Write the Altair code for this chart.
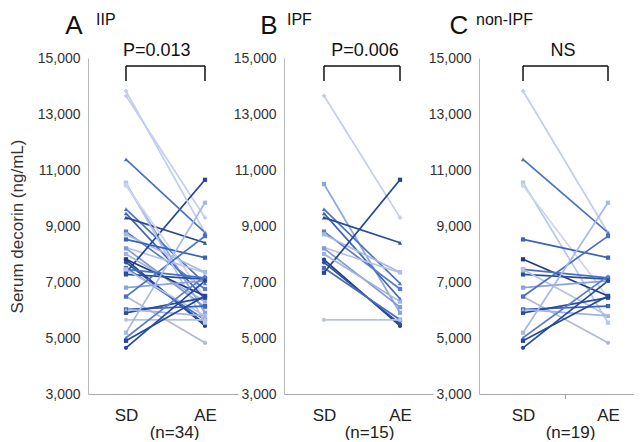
import altair as alt
import pandas as pd

# ---------------- data ----------------
y_ticks = [3000, 5000, 7000, 9000, 11000, 13000, 15000]
time_labels = ["SD", "AE"]

ipf_sd = [13650, 10500, 9600, 9450, 9300, 8800, 8700, 8230, 8200, 7800, 7700, 7500, 7330, 5650, 8000]
ipf_ae = [9300, 5900, 6950, 6400, 8400, 6750, 7350, 7330, 6100, 5430, 5500, 5650, 10650, 5650, 6300]
ipf_colors = ["#c3cdec", "#8ea5dc", "#4f74c4", "#3d63b8", "#2a4a9a", "#5a7dc9", "#a8b9e4",
              "#b5c3e8", "#7f98d6", "#1f3f8f", "#2c4fa3", "#4a6fc0", "#234594", "#b9c3df", "#9fb2e2"]
ipf_shapes = ["cross", "square", "triangle-up", "triangle-up", "triangle-up", "square", "square",
              "triangle-up", "square", "circle", "circle", "square", "square", "circle", "square"]

non_sd = [13820, 11380, 10550, 10450, 8520, 7810, 7450, 7270, 7450, 6800,
          6480, 6480, 6020, 5900, 6020, 5190, 5010, 4650, 4900]
non_ae = [8760, 8760, 5550, 6450, 7870, 6500, 7150, 7100, 5790, 7040,
          4830, 8640, 6140, 6440, 5790, 9830, 7210, 7040, 6500]
non_colors = ["#c3cdec", "#4a70c4", "#b8c6ea", "#cdd5ee", "#3a64bb", "#1f3a80", "#4a70c4", "#2a4fa0",
              "#b5c3e8", "#8aa3dc", "#b3bad0", "#4a70c4", "#3b62b8", "#284c9e", "#9fb2e2",
              "#a6b8e6", "#5b7ecb", "#2448a0", "#27479a"]
non_shapes = ["cross", "triangle-up", "square", "square", "square", "square", "square", "square",
              "square", "square", "circle", "square", "square", "square", "triangle-up",
              "square", "triangle-up", "circle", "square"]

panels = [
    dict(letter="A", name="IIP", n=34, p="P=0.013"),
    dict(letter="B", name="IPF", n=15, p="P=0.006"),
    dict(letter="C", name="non-IPF", n=19, p="NS"),
]

bracket_top = 14714
bracket_bottom = 14180

FONT = "Liberation Sans"
H = 336


def long_df(sd, ae, colors, shapes, prefix):
    rows = []
    for i, (s, a, c, sh) in enumerate(zip(sd, ae, colors, shapes)):
        rows.append(dict(id=f"{prefix}{i}", t=0, v=s, color=c, shape=sh))
        rows.append(dict(id=f"{prefix}{i}", t=1, v=a, color=c, shape=sh))
    return pd.DataFrame(rows)


df_ipf = long_df(ipf_sd, ipf_ae, ipf_colors, ipf_shapes, "ipf")
df_non = long_df(non_sd, non_ae, non_colors, non_shapes, "non")
df_all = pd.concat([df_ipf, df_non], ignore_index=True)


def panel(df, info, width, xdomain, title_x, p_x, letter_dx, name_dx, ytitle, mid_tick=False):
    x_enc = alt.X(
        "t:Q",
        scale=alt.Scale(domain=xdomain, nice=False, zero=False),
        axis=alt.Axis(
            values=[0, 1], labelExpr=f"{time_labels}[datum.value]",
            ticks=False, tickSize=0, grid=False,
            domainColor="#a8a8a8", domainWidth=1.2,
            labelFont=FONT, labelFontSize=17, labelColor="#222",
            labelBaseline="middle", labelPadding=21,
            title=f"(n={info['n']})", titleFont=FONT, titleFontSize=17,
            titleFontWeight="normal", titleColor="#222",
            titleX=title_x, titleY=38, titleBaseline="middle", titleAlign="center",
        ),
    )
    y_enc = alt.Y(
        "v:Q",
        scale=alt.Scale(domain=[3000, 15000], nice=False, zero=False),
        axis=alt.Axis(
            values=y_ticks, format=",.0f", ticks=False, tickSize=0, grid=False,
            domainColor="#b8b8b8", domainWidth=1,
            labelFont=FONT, labelFontSize=14, labelColor="#333", labelPadding=8,
            title=ytitle, titleFont=FONT, titleFontSize=17, titleFontWeight="normal",
            titleColor="#333", titlePadding=11,
        ),
    )

    base = alt.Chart(df)
    lines = base.mark_line(strokeWidth=1.7).encode(
        x=x_enc, y=y_enc, detail="id:N", color=alt.Color("color:N", scale=None)
    )
    pts = base.mark_point(filled=True, size=18, opacity=1).encode(
        x=x_enc, y=y_enc,
        color=alt.Color("color:N", scale=None),
        shape=alt.Shape("shape:N", scale=None),
    )

    br = pd.DataFrame({
        "t": [0, 0, 1], "t2": [1, 0, 1],
        "v": [bracket_top, bracket_top, bracket_top],
        "v2": [bracket_top, bracket_bottom, bracket_bottom],
    })
    bracket = alt.Chart(br).mark_rule(color="#111", strokeWidth=1.5).encode(
        x=x_enc, x2="t2:Q", y=y_enc, y2="v2:Q"
    )

    ptext = alt.Chart(pd.DataFrame({"t": [p_x], "lab": [info["p"]]})).mark_text(
        font=FONT, fontSize=18, color="#111", baseline="middle", align="center"
    ).encode(x=x_enc, y=alt.value(-7), text="lab:N")

    letter = alt.Chart(pd.DataFrame({"lab": [info["letter"]]})).mark_text(
        font=FONT, fontSize=26, color="#111", baseline="middle", align="center"
    ).encode(x=alt.value(letter_dx), y=alt.value(-32), text="lab:N")

    name = alt.Chart(pd.DataFrame({"lab": [info["name"]]})).mark_text(
        font=FONT, fontSize=16, color="#111", baseline="middle", align="left"
    ).encode(x=alt.value(name_dx), y=alt.value(-38), text="lab:N")

    layers = [lines, pts, bracket, ptext, letter, name]
    if mid_tick:
        tick = alt.Chart(pd.DataFrame({"t": [0.5]})).mark_rule(color="#a8a8a8", strokeWidth=1.2).encode(
            x=x_enc, y=alt.value(H), y2=alt.value(H + 5)
        )
        layers.append(tick)
    return alt.layer(*layers).properties(width=width, height=H)


pA = panel(df_all, panels[0], 150, [-0.481, 1.418], 86, 0.39, -14, 8, "Serum decorin (ng/mL)")
pB = panel(df_ipf, panels[1], 149, [-0.526, 1.434], 85, 0.54, -15, 3, "")
pC = panel(df_non, panels[2], 155, [-0.518, 1.306], 91, 0.47, -20, -3, "", mid_tick=True)

chart = alt.hconcat(pA, pB, pC, spacing=46, bounds="flush").properties(
    padding={"left": 0, "top": 4, "right": 0, "bottom": 0}
).configure_view(strokeWidth=0)

chart.save("out.html", embed_options={"renderer": "svg", "actions": False})
